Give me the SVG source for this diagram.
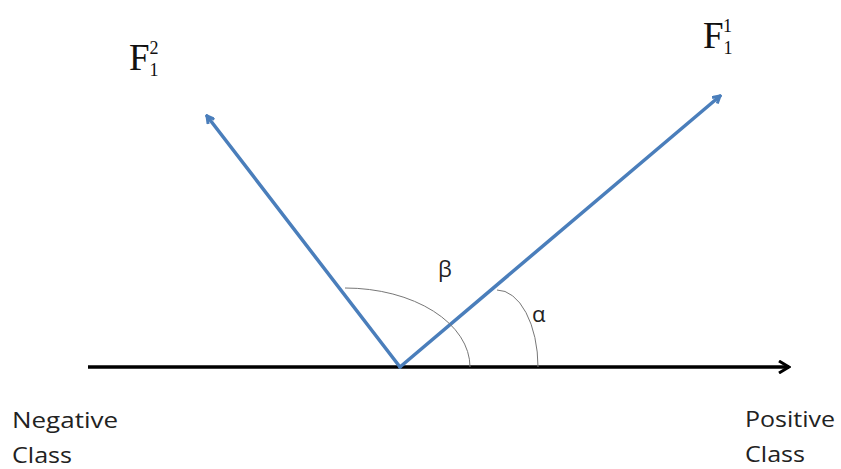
<svg xmlns="http://www.w3.org/2000/svg" width="841" height="469" viewBox="0 0 841 469">
<style>
.lbl{font-family:"Open Sans","Liberation Sans",sans-serif;font-size:22px;fill:#222}
.f{font-family:"Liberation Serif","DejaVu Serif",serif;fill:#111}
.g{font-family:"Open Sans","Liberation Sans",sans-serif;font-size:22px;fill:#222}
.vec{stroke:#4a7ebb;stroke-width:3.5;fill:none;stroke-linecap:round}
.arc{stroke:#777;stroke-width:1;fill:none}
</style>
<defs>
<marker id="ab" markerWidth="10" markerHeight="10" refX="8" refY="5" orient="auto" markerUnits="userSpaceOnUse" viewBox="0 0 10 10">
<path d="M1,1 L8,5 L1,9" fill="none" stroke="#4a7ebb" stroke-width="3"/>
</marker>
<marker id="ak" markerWidth="14" markerHeight="14" refX="12" refY="7" orient="auto" markerUnits="userSpaceOnUse" viewBox="0 0 14 14">
<path d="M2,1 L12,7 L2,13" fill="none" stroke="#000" stroke-width="3"/>
</marker>
</defs>
<rect width="841" height="469" fill="#fff"/>
<g id="connectors">
<line x1="88" y1="367" x2="789" y2="367" stroke="#000" stroke-width="3.5" marker-end="url(#ak)"/>
<line class="vec" x1="400" y1="367" x2="207" y2="116" marker-end="url(#ab)"/>
<line class="vec" x1="400" y1="367" x2="720" y2="96" marker-end="url(#ab)"/>
<path id="beta-arc" class="arc" d="M345,288 A125,79 0 0 1 470,367"/>
<path id="alpha-arc" class="arc" d="M497,290 A41,77 0 0 1 538,367"/>
</g>
<g id="F12">
<text class="f" x="129" y="70" font-size="37">F<tspan font-size="18" dy="6">1</tspan><tspan font-size="18" dx="-9" dy="-22">2</tspan></text>
</g>
<g id="F11">
<text class="f" x="703" y="48" font-size="37">F<tspan font-size="18" dy="6">1</tspan><tspan font-size="18" dx="-9" dy="-22">1</tspan></text>
</g>
<g id="beta"><text class="g" x="438" y="277">β</text></g>
<g id="alpha"><text class="g" x="532" y="322">α</text></g>
<g id="negative"><text class="lbl" x="12" y="428" textLength="106" lengthAdjust="spacingAndGlyphs">Negative</text><text class="lbl" x="12" y="463" textLength="60" lengthAdjust="spacingAndGlyphs">Class</text></g>
<g id="positive"><text class="lbl" x="745" y="427" textLength="90" lengthAdjust="spacingAndGlyphs">Positive</text><text class="lbl" x="745" y="462" textLength="60" lengthAdjust="spacingAndGlyphs">Class</text></g>
</svg>
